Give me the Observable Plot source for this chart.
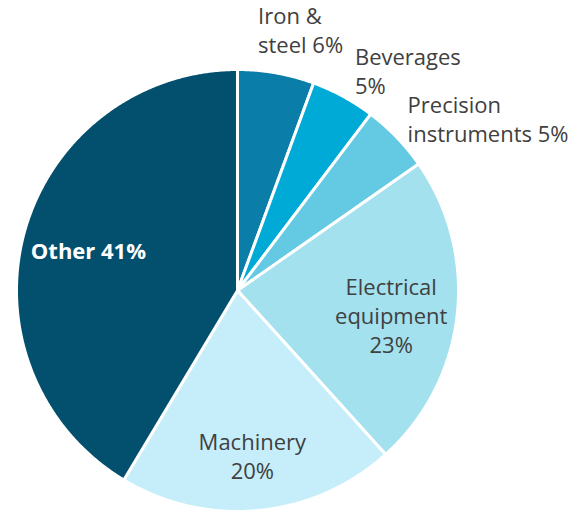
<!DOCTYPE html>
<html>
<head>
<meta charset="utf-8">
<script src="https://cdn.jsdelivr.net/npm/d3@7"></script>
<script src="https://cdn.jsdelivr.net/npm/@observablehq/plot@0.6"></script>
<style>
  html, body { margin: 0; padding: 0; background: #ffffff; }
  #chart svg { display: block; }
</style>
</head>
<body>
<div id="chart"></div>
<script>
const categories = ["Iron & steel", "Beverages", "Precision instruments", "Electrical equipment", "Machinery", "Other"];
const shares = [5.6, 4.7, 5.0, 23.0, 20.3, 41.4];
const labels = ["Iron &\nsteel 6%", "Beverages\n5%", "Precision\ninstruments 5%", "Electrical\nequipment\n23%", "Machinery\n20%", "Other 41%"];
const colors = ["#0a7ea8", "#00aad6", "#64cae3", "#a3e1ee", "#c6eefa", "#034f6e"];

const W = 574, H = 510, cx = 237, cy = 290, R = 221;

const arcs = d3.pie().sort(null)(shares);

const slices = arcs.map((a, i) => {
  const pts = [{x: 0, y: 0}];
  const n = Math.max(8, Math.ceil((a.endAngle - a.startAngle) / 0.005));
  for (let k = 0; k <= n; k++) {
    const t = a.startAngle + (a.endAngle - a.startAngle) * k / n;
    pts.push({x: Math.sin(t), y: Math.cos(t)});
  }
  pts.push({x: 0, y: 0});
  return {category: categories[i], color: colors[i], pts};
});

const labelData = arcs.map((a, i) => {
  const m = (a.startAngle + a.endAngle) / 2;
  return {label: labels[i], category: categories[i], m};
});
const radial = (d, f) => ({...d, x: Math.sin(d.m) * f, y: Math.cos(d.m) * f});
const byCat = c => labelData.filter(d => d.category === c);

const marks = slices.map(s => Plot.line(s.pts, {
  x: "x", y: "y", fill: s.color, stroke: "white", strokeWidth: 3,
  strokeLinejoin: "round", curve: "linear"
}));

const textStyle = {x: "x", y: "y", text: "label", lineAnchor: "middle", fill: "#404040", fontSize: 22, lineHeight: 1.32};

marks.push(Plot.text(byCat("Iron & steel").map(d => radial(d, 1.1)), {...textStyle, textAnchor: "start", dx: -22, dy: -22}));
marks.push(Plot.text(byCat("Beverages").map(d => radial(d, 1.1)), {...textStyle, textAnchor: "start", dx: 1, dy: -7}));
marks.push(Plot.text(byCat("Precision instruments").map(d => radial(d, 1.1)), {...textStyle, textAnchor: "start", dx: -5, dy: -4}));
marks.push(Plot.text(byCat("Electrical equipment").map(d => radial(d, 0.70)), {...textStyle, textAnchor: "middle", dy: 7}));
marks.push(Plot.text(byCat("Machinery").map(d => radial(d, 0.69)), {...textStyle, textAnchor: "middle", dy: 13}));
marks.push(Plot.text(byCat("Other").map(d => radial(d, 0.70)), {
  ...textStyle, textAnchor: "middle", fill: "white", fontWeight: "bold", dy: 0
}));

const chart = Plot.plot({
  width: W, height: H, margin: 0,
  style: {fontFamily: "'Open Sans', sans-serif", background: "white", overflow: "hidden"},
  x: {type: "linear", domain: [-cx / R, (W - cx) / R], axis: null},
  y: {type: "linear", domain: [-(H - cy) / R, cy / R], axis: null},
  marks
});
document.getElementById("chart").appendChild(chart);
</script>
</body>
</html>
